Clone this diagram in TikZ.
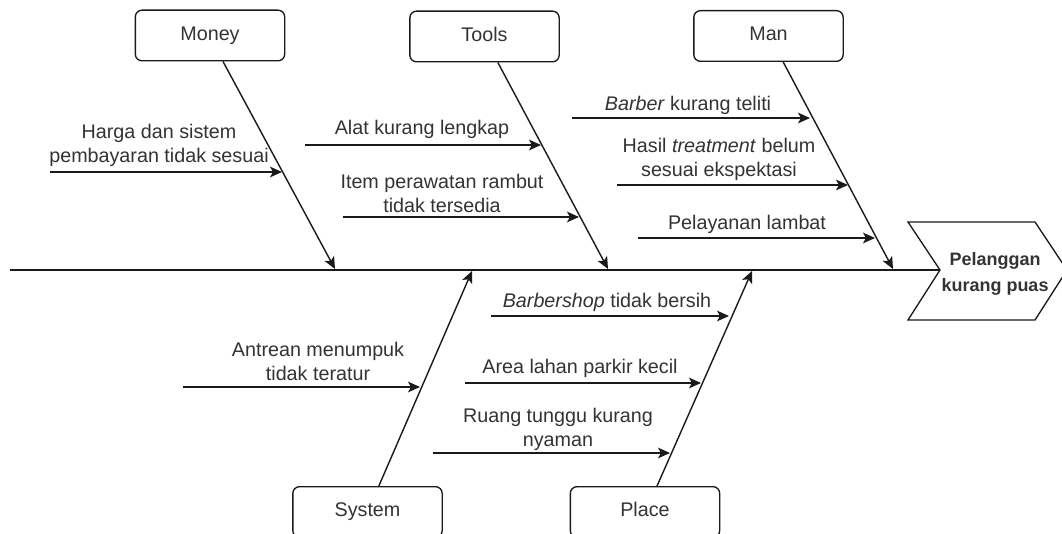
\documentclass[tikz,border=0pt]{standalone}
\usepackage{fontspec}
\setmainfont{Liberation Sans}
\usetikzlibrary{arrows.meta}
\definecolor{linec}{HTML}{1A1A1A}
\definecolor{txtc}{HTML}{333333}
\tikzset{
  box/.style={draw=linec, rounded corners=5pt, line width=1pt, fill=white,
    minimum width=112pt, minimum height=38pt, text=txtc,
    text height=10.6pt, text depth=3.2pt,
    font=\fontsize{14.8}{18}\selectfont},
  bone/.style={draw=linec, line width=1.05pt, -{Stealth[length=9pt,width=8pt,inset=2.2pt]}},
  sub/.style={draw=linec, line width=1.05pt, -{Stealth[length=9pt,width=8pt,inset=2.2pt]}},
  lbl/.style={text=txtc, align=center, inner sep=0pt,
    font=\fontsize{14.8}{18}\selectfont},
  headlbl/.style={text=txtc, align=center, inner sep=0pt,
    font=\bfseries\fontsize{13.5}{19}\selectfont},
}
\begin{document}
\begin{tikzpicture}[x=0.75pt,y=-0.75pt]
\clip (0,0) rectangle (1062,534);
\fill[white] (0,0) rectangle (1062,534);

% head
\coordinate (notch) at (940,270);
\draw[linec, line width=1pt] (908,222) -- (1035,222) -- (1067,270) -- (1035,320) -- (908,320) -- (notch) -- cycle;
\node[headlbl] (head) at (995,274) {Pelanggan\\kurang puas};

% spine
\coordinate (tail) at (10,270);
\draw[linec, line width=1.05pt] (tail) -- (notch);

% category boxes
\node[box] (money) at (210,35.5) {Money};
\node[box] (tools) at (484.5,36.5) {Tools};
\node[box] (man) at (768.5,36) {Man};
\node[box] (system) at (367.5,512) {System};
\node[box] (place) at (645,512) {Place};

% bone ends on the spine
\coordinate (me) at (335,269);
\coordinate (te) at (608,269);
\coordinate (ne) at (893,269);
\coordinate (se) at (472,271);
\coordinate (pe) at (752,271);

\draw[bone] ([xshift=9.75pt]money.south) -- (me);
\draw[bone] ([xshift=10pt]tools.south) -- (te);
\draw[bone] ([xshift=11pt]man.south) -- (ne);
\draw[bone] ([xshift=8.5pt]system.north) -- (se);
\draw[bone] ([xshift=9pt]place.north) -- (pe);

% Money causes
\coordinate (m1a) at (50,172);
\coordinate (m1b) at (282,172);
\draw[sub] (m1a) -- (m1b);
\node[lbl] (m1) at (159,145) {Harga dan sistem\\pembayaran tidak sesuai};

% Tools causes
\coordinate (t1a) at (305,145);
\coordinate (t1b) at (541,145);
\draw[sub] (t1a) -- (t1b);
\node[lbl] (t1) at (422,129) {Alat kurang lengkap};
\coordinate (t2a) at (343,217);
\coordinate (t2b) at (579,217);
\draw[sub] (t2a) -- (t2b);
\node[lbl] (t2) at (442,193) {Item perawatan rambut\\tidak tersedia};

% Man causes
\coordinate (n1a) at (572,118);
\coordinate (n1b) at (810,118);
\draw[sub] (n1a) -- (n1b);
\node[lbl] (n1) at (688,105) {\textit{Barber} kurang teliti};
\coordinate (n2a) at (617,185);
\coordinate (n2b) at (848,185);
\draw[sub] (n2a) -- (n2b);
\node[lbl] (n2) at (719,159) {Hasil \textit{treatment} belum\\sesuai ekspektasi};
\coordinate (n3a) at (638,238);
\coordinate (n3b) at (875,238);
\draw[sub] (n3a) -- (n3b);
\node[lbl] (n3) at (747,224) {Pelayanan lambat};

% System causes
\coordinate (s1a) at (183,387);
\coordinate (s1b) at (420,387);
\draw[sub] (s1a) -- (s1b);
\node[lbl] (s1) at (318,361) {Antrean menumpuk\\tidak teratur};

% Place causes
\coordinate (p1a) at (491,316);
\coordinate (p1b) at (729,316);
\draw[sub] (p1a) -- (p1b);
\node[lbl] (p1) at (607,302) {\textit{Barbershop} tidak bersih};
\coordinate (p2a) at (465,383);
\coordinate (p2b) at (701,383);
\draw[sub] (p2a) -- (p2b);
\node[lbl] (p2) at (580,368) {Area lahan parkir kecil};
\coordinate (p3a) at (433,453);
\coordinate (p3b) at (670,453);
\draw[sub] (p3a) -- (p3b);
\node[lbl] (p3) at (558,429) {Ruang tunggu kurang\\nyaman};
\end{tikzpicture}
\end{document}
